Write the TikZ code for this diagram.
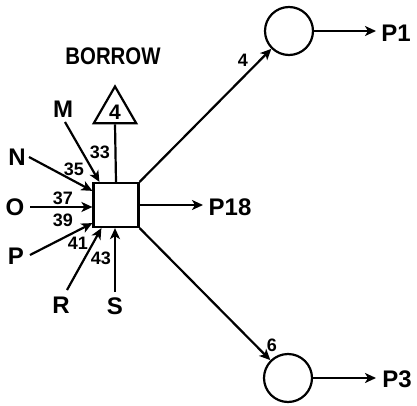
\documentclass[tikz,border=0pt]{standalone}
\usepackage{fontspec}
\setmainfont{Liberation Sans}
\usetikzlibrary{arrows.meta,shapes.geometric,calc}
\begin{document}
\begin{tikzpicture}[x=1pt,y=-1pt,
  line width=2.2pt,
  arr/.style={-{Stealth[length=11pt,width=10pt,inset=3pt]}},
  lbl/.style={font=\fontsize{24}{24}\selectfont\bfseries, inner sep=0pt},
  num/.style={font=\fontsize{18}{18}\selectfont\bfseries, inner sep=0pt},
  box/.style={draw, minimum width=45pt, minimum height=44pt, inner sep=0pt},
  ring/.style={draw, circle, minimum size=48pt, inner sep=0pt},
  tri/.style={draw, regular polygon, regular polygon sides=3, minimum size=49pt, inner sep=0pt}]
\useasboundingbox (0,0) rectangle (417,406);
\node[box] (sq) at (116,205) {};
\node[tri] (tr) at (115,111) {};
\node[num, font=\fontsize{21}{21}\selectfont\bfseries] (trl) at (115,112) {4};
\node[lbl] (bor) at (113,56) {\scalebox{0.85}[1]{BORROW}};
\node[ring] (c1) at (289,31) {};
\node[ring] (c3) at (288,378) {};
\coordinate (p1e) at (376,31);
\coordinate (p3e) at (376,378);
\coordinate (p18e) at (203,205);
\node[lbl] (p1) at (396,33) {P1};
\node[lbl] (p3) at (397,379) {P3};
\node[lbl] (p18) at (230,207) {P18};
\node[num] (l4) at (243,60) {4};
\node[num] (l6) at (272,345) {6};
% outputs
\draw (sq.north) -- (tr.south);
\draw[arr] (sq.north east) -- (c1);
\draw[arr] (sq.south east) -- (c3);
\draw[arr] (sq.east) -- (p18e);
\draw[arr] (c1.east) -- (p1e);
\draw[arr] (c3.east) -- (p3e);
% inputs
\node[lbl] (m) at (63,109) {M};
\node[lbl] (n) at (17,157) {N};
\node[lbl] (o) at (15,207) {O};
\node[lbl] (p) at (16,256) {P};
\node[lbl] (r) at (61,305) {R};
\node[lbl] (s) at (115,306) {S};
\coordinate (ms) at (65,122);
\coordinate (ns) at (29,157);
\coordinate (os) at (30,207);
\coordinate (ps) at (30,255);
\coordinate (rs) at (67,290);
\coordinate (ss) at (115,292);
\draw[arr] (ms) -- ($(sq.north west)+(7,0)$);
\draw[arr] (ns) -- ($(sq.north west)+(0,9)$);
\draw[arr] (os) -- ($(sq.west)+(0,2)$);
\draw[arr] (ps) -- ($(sq.south west)+(0,-5)$);
\draw[arr] (rs) -- ($(sq.south west)+(9,0)$);
\draw[arr] (ss) -- ($(sq.south)+(-1,0)$);
\node[num] (n33) at (100,152) {33};
\node[num] (n35) at (74,169) {35};
\node[num] (n37) at (63,198) {37};
\node[num] (n39) at (63,220) {39};
\node[num] (n41) at (78,243) {41};
\node[num] (n43) at (101,258) {43};
\end{tikzpicture}
\end{document}
